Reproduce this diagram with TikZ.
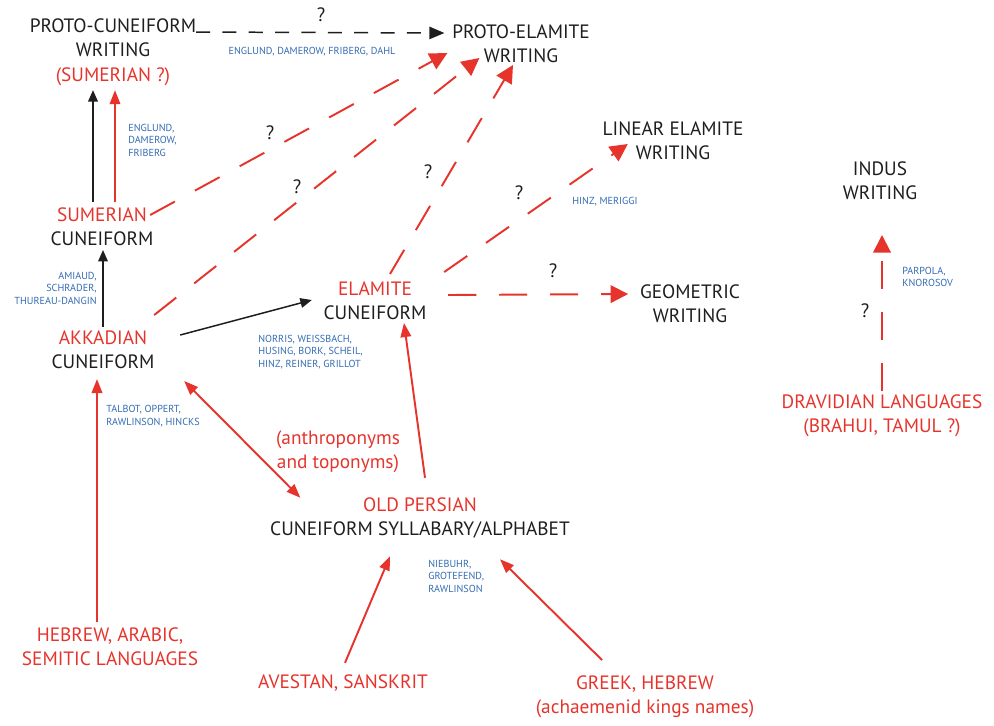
\documentclass[tikz,border=0pt]{standalone}
\usepackage{fontspec}
\setmainfont{PT Sans}
\usetikzlibrary{arrows.meta,calc}
\definecolor{ered}{RGB}{230,52,44}
\definecolor{eblue}{RGB}{52,108,178}
\definecolor{eblack}{RGB}{30,30,30}
\newcommand{\rd}[1]{\textcolor{ered}{#1}}

\begin{document}
\begin{tikzpicture}[x=0.02cm,y=-0.02cm]
\tikzstyle{big}=[align=center,inner sep=2pt,text=eblack,font=\fontsize{11}{13.8}\selectfont]
\tikzstyle{redbig}=[big,text=ered]
\tikzstyle{names}=[align=left,inner sep=0pt,text=eblue,font=\fontsize{5.8}{7.1}\selectfont]
\tikzstyle{quest}=[inner sep=0pt,text=eblack,font=\fontsize{11}{13}\selectfont]
\tikzstyle{blk}=[draw=eblack,line width=0.85pt,-{Triangle[length=6.5pt,width=5.5pt]}]
\tikzstyle{blkdash}=[draw=eblack,line width=0.85pt,dash pattern=on 8pt off 7pt,-{Triangle[length=8.5pt,width=7pt]}]
\tikzstyle{red}=[draw=ered,line width=1.1pt,-{Triangle[length=8pt,width=6pt]}]
\tikzstyle{reddash}=[draw=ered,line width=1.1pt,dash pattern=on 16pt off 13pt,-{Triangle[length=10pt,width=10pt]}]
\useasboundingbox (0,0) rectangle (994,725);

\node[big] (pc) at (113,52) {PROTO-CUNEIFORM\\WRITING\\\rd{(SUMERIAN ?)}};
\node[big] (pe) at (521,44) {PROTO-ELAMITE\\WRITING};
\node[big] (le) at (673,141) {LINEAR ELAMITE\\WRITING};
\node[big] (ind) at (880,181) {INDUS\\WRITING};
\node[big] (geo) at (690,304) {GEOMETRIC\\WRITING};
\node[big] (sum) at (102,227) {\rd{SUMERIAN}\\CUNEIFORM};
\node[big] (akk) at (103,350) {\rd{AKKADIAN}\\CUNEIFORM};
\node[big] (ela) at (375,301) {\rd{ELAMITE}\\CUNEIFORM};
\node[big] (op) at (420,518) {\rd{OLD PERSIAN}\\CUNEIFORM SYLLABARY/ALPHABET};
\node[redbig] (anth) at (338,452) {(anthroponyms\\and toponyms)};
\node[redbig] (heb) at (110,647) {HEBREW, ARABIC,\\SEMITIC LANGUAGES};
\node[redbig] (ave) at (343,683) {AVESTAN, SANSKRIT};
\node[redbig] (grk) at (645,697) {GREEK, HEBREW\\(achaemenid kings names)};
\node[redbig] (drv) at (882,416) {DRAVIDIAN LANGUAGES\\(BRAHUI, TAMUL ?)};

\node[names,anchor=center] (n1) at (312,52) {ENGLUND, DAMEROW, FRIBERG, DAHL};
\node[names,anchor=west] (n2) at (128,140) {ENGLUND,\\DAMEROW,\\FRIBERG};
\node[names,anchor=east,align=right] (n3) at (97,288) {AMIAUD,\\SCHRADER,\\THUREAU-DANGIN};
\node[names,anchor=west] (n4) at (106,416) {TALBOT, OPPERT,\\RAWLINSON, HINCKS};
\node[names,anchor=west] (n5) at (258,352) {NORRIS, WEISSBACH,\\HUSING, BORK, SCHEIL,\\HINZ, REINER, GRILLOT};
\node[names,anchor=west] (n6) at (572,202) {HINZ, MERIGGI};
\node[names,anchor=west] (n7) at (902,277) {PARPOLA,\\KNOROSOV};
\node[names,anchor=west] (n8) at (428,576) {NIEBUHR,\\GROTEFEND,\\RAWLINSON};

\node[quest] (q1) at (321,15) {?};
\node[quest] (q2) at (270,133) {?};
\node[quest] (q3) at (297,187) {?};
\node[quest] (q4) at (428,172) {?};
\node[quest] (q5) at (519,193) {?};
\node[quest] (q6) at (553,271) {?};
\node[quest] (q7) at (865,311) {?};

\draw[blkdash] ($(pc.east)+(-4,-20)$) -- ($(pe.west)+(-4,-11)$);
\draw[blk] ($(sum.north)+(-9,-2)$) -- ($(pc.south)+(-20,1)$);
\draw[red] ($(sum.north)+(13,-2)$) -- ($(pc.south)+(2,1)$);
\draw[blk] (akk.north) -- ($(sum.south)+(1,0)$);
\draw[blk] ($(akk.east)+(22,-15)$) -- ($(ela.west)+(-8,-1)$);
\draw[red] ($(heb.north)+(-13,-2)$) -- ($(akk.south)+(-6,6)$);
\draw[red,{Triangle[length=8pt,width=6pt]}-{Triangle[length=8pt,width=6pt]}] ($(akk.south east)+(26,8)$) -- ($(op.north west)+(34,4)$);
\draw[red] ($(op.north)+(5,-16)$) -- ($(ela.south)+(29,-1)$);
\draw[red] ($(ave.north)+(2,-8)$) -- ($(op.south)+(-30,14)$);
\draw[red] ($(grk.north)+(-43,-12)$) -- ($(op.south)+(80,17)$);
\draw[reddash] ($(sum.east)+(-7,-12)$) -- ($(pe.west)+(-1,9)$);
\draw[reddash] ($(akk.north east)+(-4,-12)$) -- ($(pe.south west)+(31,-9)$);
\draw[reddash] ($(ela.north)+(15,-4)$) -- ($(pe.south)+(-8,-2)$);
\draw[reddash] ($(ela.north east)+(14,-6)$) -- ($(le.west)+(29,3)$);
\draw[reddash] ($(ela.east)+(18,-6)$) -- ($(geo.west)+(-8,-10)$);
\draw[reddash] (drv.north) -- ($(ind.south)+(2,31)$);
\end{tikzpicture}
\end{document}
